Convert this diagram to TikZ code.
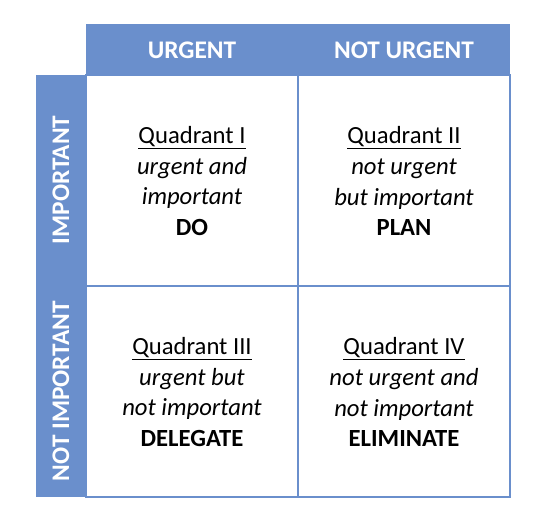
\documentclass[tikz,border=0pt]{standalone}
\usepackage{fontspec}
\setmainfont{Carlito}
\definecolor{bb}{HTML}{6A8FCC}
\begin{document}
\begin{tikzpicture}[x=0.75pt,y=-0.75pt,
  hdr/.style={font=\fontsize{19}{23}\selectfont\bfseries,text=white},
  cell/.style={font=\fontsize{18.5}{23.2}\selectfont,align=center}]
\useasboundingbox (0,0) rectangle (549,530);
\fill[bb] (86,24) rectangle (510,75);
\fill[bb] (36,75) rectangle (86,497);
\draw[bb,line width=2.2pt] (86,75) rectangle (510,497);
\draw[bb,line width=2.2pt] (298,75) -- (298,497);
\draw[bb,line width=2.2pt] (86,286) -- (510,286);
\node[hdr] (u) at (192,50) {URGENT};
\node[hdr] (nu) at (404,50) {NOT URGENT};
\node[hdr,rotate=90] (im) at (61,180) {IMPORTANT};
\node[hdr,rotate=90] (ni) at (61,391) {NOT IMPORTANT};
\node[cell] (q1) at (192,181) {\underline{Quadrant I}\\\itshape urgent and\\\itshape important\\\bfseries DO};
\node[cell] (q2) at (404,181) {\underline{Quadrant II}\\\itshape not urgent\\\itshape but important\\\bfseries PLAN};
\node[cell] (q3) at (192,392) {\underline{Quadrant III}\\\itshape urgent but\\\itshape not important\\\bfseries DELEGATE};
\node[cell] (q4) at (404,392) {\underline{Quadrant IV}\\\itshape not urgent and\\\itshape not important\\\bfseries ELIMINATE};
\end{tikzpicture}
\end{document}
